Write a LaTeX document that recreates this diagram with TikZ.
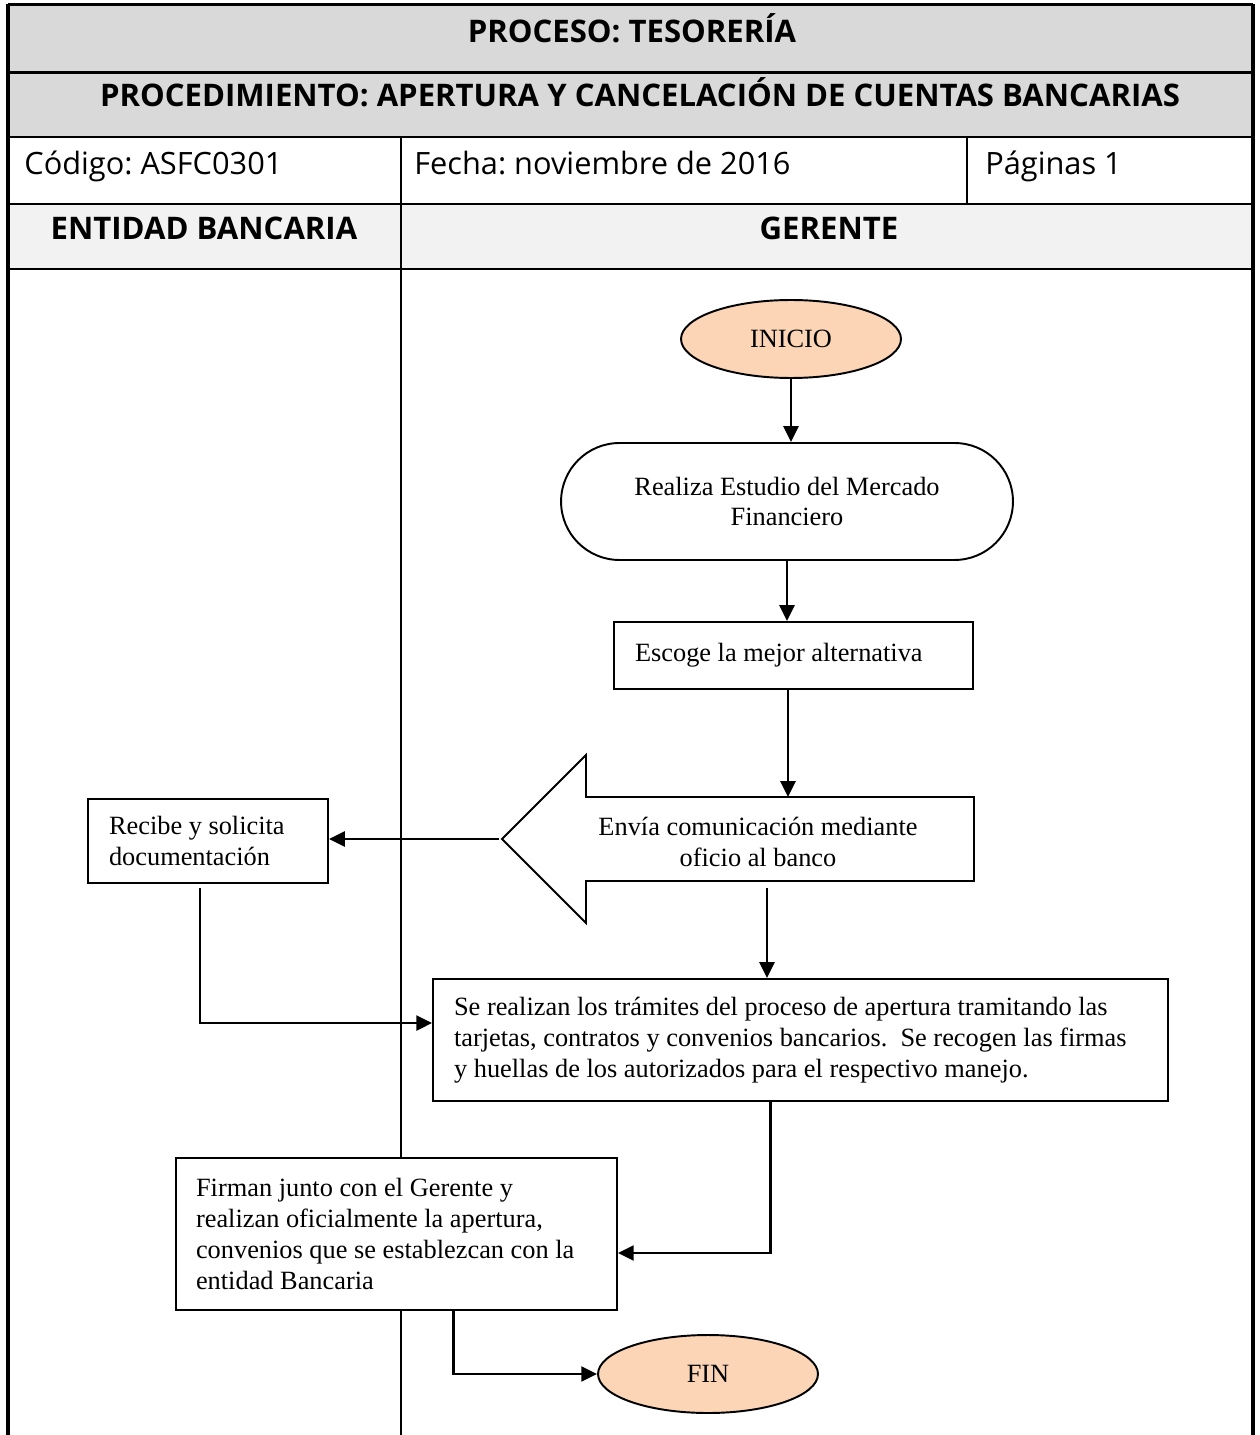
\documentclass[tikz,border=0pt]{standalone}
\usepackage{fontspec}
\setmainfont{Liberation Serif}
\newfontfamily\encabezado{Open Sans}
\usetikzlibrary{arrows.meta,shapes.geometric,calc}

\definecolor{gristitulo}{HTML}{D9D9D9}
\definecolor{grisclaro}{HTML}{F2F2F2}
\definecolor{durazno}{HTML}{FBD5B5}

\begin{document}
\frenchspacing
\begin{tikzpicture}[x=0.02cm,y=-0.02cm,
    titulo/.style={font=\encabezado\bfseries\fontsize{17.7}{20}\selectfont,anchor=base},
    dato/.style={font=\encabezado\fontsize{17.5}{20}\selectfont,anchor=base west,inner sep=0pt},
    terminal/.style={ellipse,draw,line width=1.1pt,fill=durazno,minimum width=4.4cm,
        minimum height=1.56cm,font=\fontsize{15}{17.6}\selectfont},
    caja/.style={rectangle,draw,line width=1.1pt,fill=white,align=flush left,
        font=\fontsize{15}{17.6}\selectfont,inner xsep=0.42cm},
    flecha/.style={line width=1.5pt,-{Triangle[length=9pt,width=8.5pt]}},
    linea/.style={line width=1.7pt}]
    \useasboundingbox (0,0) rectangle (1259,1435);

    % encabezado
    \fill[gristitulo] (8,5) rectangle (1253,137);
    \fill[grisclaro] (8,204) rectangle (1253,269);
    \draw[linea] (8,5) -- (1253,5);
    \draw[linea] (8,73) -- (1253,73);
    \draw[linea] (8,137) -- (1253,137);
    \draw[line width=1.2pt] (8,204) -- (1253,204);
    \draw[linea] (8,269) -- (1253,269);
    \draw[line width=2.2pt] (8,4) -- (8,1435);
    \draw[line width=2.2pt] (1253,4) -- (1253,1435);
    \draw[line width=1.2pt] (967,137) -- (967,204);
    \draw[line width=1.2pt] (401,137) -- (401,1435);

    \node[titulo] (proceso) at (632,43) {PROCESO: TESORERÍA};
    \node[titulo] (procedimiento) at (640,107) {PROCEDIMIENTO: APERTURA Y CANCELACIÓN DE CUENTAS BANCARIAS};
    \node[dato] (codigo) at (24,175) {Código: ASFC0301};
    \node[dato] (fecha) at (414,175) {Fecha: noviembre de 2016};
    \node[dato] (paginas) at (985,175) {Páginas 1};
    \node[titulo] (entidad) at (204,240) {ENTIDAD BANCARIA};
    \node[titulo] (gerente) at (829,240) {GERENTE};

    % flujo
    \node[terminal] (inicio) at (791,339) {INICIO};
    \node[caja,align=center,rounded corners=1.17cm,minimum width=9.04cm,minimum height=2.34cm]
        (estudio) at (787,501.5) {Realiza Estudio del Mercado\\Financiero};
    \node[caja,text width=6.34cm,minimum height=1.34cm] (escoge) at (793.5,655.5)
        {Escoge la mejor alternativa};

    \draw[line width=1.1pt,fill=white] (974,797) -- (586,797) -- (586,755) -- (502,839)
        -- (586,923) -- (586,881) -- (974,881) -- cycle;
    \coordinate (punta) at (499,839);
    \coordinate (entrada) at (788,797);
    \coordinate (salida) at (767,888);
    \node[align=center,font=\fontsize{15}{17.6}\selectfont] (envia) at (758,842)
        {Envía comunicación mediante\\oficio al banco};

    \node[caja,text width=3.96cm,minimum height=1.68cm] (recibe) at (208,841)
        {Recibe y solicita\\documentación};
    \node[caja,text width=13.86cm,minimum height=2.44cm] (tramites) at (800.5,1040)
        {Se realizan los trámites del proceso de apertura tramitando las\\
         tarjetas, contratos y convenios bancarios.\ \ Se recogen las firmas\\
         y huellas de los autorizados para el respectivo manejo.};
    \node[caja,inner xsep=0.4cm,text width=8.02cm,minimum height=3.04cm] (firman) at (396.5,1234)
        {Firman junto con el Gerente y\\realizan oficialmente la apertura,\\
         convenios que se establezcan con la\\entidad Bancaria};
    \node[terminal] (fin) at (708,1374) {FIN};

    \draw[flecha] (inicio.south) -- (estudio.north -| inicio.south);
    \draw[flecha] (estudio.south) -- (escoge.north -| estudio.south);
    \draw[flecha] (escoge.south -| entrada) -- (entrada);
    \draw[flecha] (punta) -- (recibe.east |- punta);
    \draw[flecha] (salida) -- (salida |- tramites.north);
    \draw[flecha] ($(recibe.south)+(-8,4)$) |- ($(tramites.west)+(0,-17)$);
    \draw[flecha] ($(tramites.south)+(-30,0)$) |- ($(firman.east)+(0,19)$);
    \draw[flecha] ($(firman.south)+(57,0)$) |- (fin.west);
\end{tikzpicture}
\end{document}
